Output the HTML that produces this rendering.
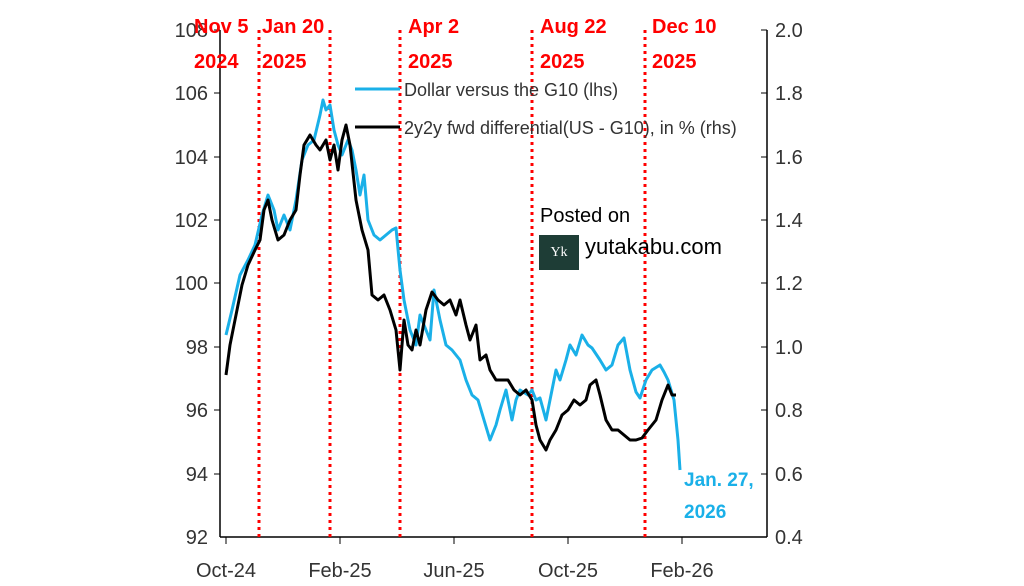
<!DOCTYPE html>
<html><head><style>body{margin:0;background:#fff}svg{display:block}</style></head><body>
<svg width="1024" height="586" xmlns="http://www.w3.org/2000/svg" font-family="Liberation Sans, sans-serif">
<rect width="1024" height="586" fill="#fff"/>
<g stroke="#000" stroke-width="1.5" fill="none">
<line x1="220" y1="30" x2="220" y2="537"/>
<line x1="767" y1="30" x2="767" y2="537"/>
<line x1="220" y1="537" x2="767" y2="537"/>
</g>
<g stroke="#000" stroke-width="1">
<line x1="214" y1="30" x2="220" y2="30"/><line x1="214" y1="93" x2="220" y2="93"/><line x1="214" y1="157" x2="220" y2="157"/><line x1="214" y1="220" x2="220" y2="220"/><line x1="214" y1="283" x2="220" y2="283"/><line x1="214" y1="347" x2="220" y2="347"/><line x1="214" y1="410" x2="220" y2="410"/><line x1="214" y1="474" x2="220" y2="474"/>
<line x1="761" y1="30" x2="767" y2="30"/><line x1="761" y1="93" x2="767" y2="93"/><line x1="761" y1="157" x2="767" y2="157"/><line x1="761" y1="220" x2="767" y2="220"/><line x1="761" y1="283" x2="767" y2="283"/><line x1="761" y1="347" x2="767" y2="347"/><line x1="761" y1="410" x2="767" y2="410"/><line x1="761" y1="474" x2="767" y2="474"/>
<line x1="226" y1="537" x2="226" y2="544"/><line x1="340" y1="537" x2="340" y2="544"/><line x1="454" y1="537" x2="454" y2="544"/><line x1="568" y1="537" x2="568" y2="544"/><line x1="682" y1="537" x2="682" y2="544"/>
</g>
<g font-size="20" fill="#333" text-anchor="end">
<text x="208" y="37">108</text><text x="208" y="100">106</text><text x="208" y="164">104</text><text x="208" y="227">102</text><text x="208" y="290">100</text><text x="208" y="354">98</text><text x="208" y="417">96</text><text x="208" y="481">94</text><text x="208" y="544">92</text>
</g>
<g font-size="20" fill="#333">
<text x="775" y="37">2.0</text><text x="775" y="100">1.8</text><text x="775" y="164">1.6</text><text x="775" y="227">1.4</text><text x="775" y="290">1.2</text><text x="775" y="354">1.0</text><text x="775" y="417">0.8</text><text x="775" y="481">0.6</text><text x="775" y="544">0.4</text>
</g>
<g font-size="20" fill="#333" text-anchor="middle">
<text x="226" y="577">Oct-24</text><text x="340" y="577">Feb-25</text><text x="454" y="577">Jun-25</text><text x="568" y="577">Oct-25</text><text x="682" y="577">Feb-26</text>
</g>
<g stroke="#f00" stroke-width="3" stroke-dasharray="3,4">
<line x1="259" y1="30" x2="259" y2="537"/><line x1="330" y1="30" x2="330" y2="537"/><line x1="400" y1="30" x2="400" y2="537"/><line x1="532" y1="30" x2="532" y2="537"/><line x1="645" y1="30" x2="645" y2="537"/>
</g>
<g font-size="20" font-weight="bold" fill="#f00">
<text x="194" y="33">Nov 5</text><text x="194" y="68">2024</text>
<text x="262" y="33">Jan 20</text><text x="262" y="68">2025</text>
<text x="408" y="33">Apr 2</text><text x="408" y="68">2025</text>
<text x="540" y="33">Aug 22</text><text x="540" y="68">2025</text>
<text x="652" y="33">Dec 10</text><text x="652" y="68">2025</text>
</g>
<polyline fill="none" stroke="#1ab0e8" stroke-width="3" stroke-linejoin="round" points="226,335 232,310 240,275 248,260 255,245 262,215 268,195 274,210 278,230 284,215 290,230 296,200 302,160 308,145 314,140 320,115 323,100 326,110 330,105 334,130 338,145 342,155 348,140 352,150 356,170 360,195 364,175 368,220 374,235 380,240 386,235 392,230 396,228 400,270 404,300 410,330 416,345 420,315 426,330 430,340 434,290 440,320 446,345 452,350 460,360 466,380 472,395 478,400 484,420 490,440 496,425 500,410 506,390 512,420 516,400 520,390 528,395 532,390 536,400 540,398 546,420 550,400 556,370 560,380 566,360 570,345 576,355 582,335 588,345 592,348 600,360 606,370 612,365 618,345 624,338 630,370 636,392 640,398 646,380 652,370 660,365 664,372 668,380 674,400 676,420 678,440 680,470"/>
<polyline fill="none" stroke="#000" stroke-width="3" stroke-linejoin="round" points="226,375 230,345 236,315 242,285 248,265 255,250 260,240 264,210 268,200 272,220 278,240 284,235 290,220 296,210 300,175 304,145 310,135 316,145 320,150 326,140 330,160 334,145 338,170 342,140 346,125 350,145 356,200 362,230 368,250 372,295 378,300 384,295 390,310 396,330 400,370 404,320 408,345 412,350 416,330 420,345 426,310 432,292 438,300 444,305 450,300 456,315 460,300 466,325 470,340 476,325 480,360 486,355 490,370 496,380 502,380 508,380 514,390 520,395 526,390 532,400 536,425 540,440 546,450 550,440 556,430 562,415 568,410 574,400 580,405 586,400 590,385 596,380 600,395 606,420 612,430 618,430 624,435 630,440 636,440 642,438 648,430 656,420 662,400 668,385 672,395 676,395"/>
<line x1="355" y1="89" x2="400" y2="89" stroke="#1ab0e8" stroke-width="3"/>
<line x1="355" y1="127" x2="400" y2="127" stroke="#000" stroke-width="3"/>
<text x="404" y="96" font-size="18" fill="#333">Dollar versus the G10 (lhs)</text>
<text x="404" y="134" font-size="18" fill="#333">2y2y fwd differential(US - G10), in % (rhs)</text>
<text x="540" y="222" font-size="20" fill="#000">Posted on</text>
<rect x="539" y="235" width="40" height="35" fill="#1e3d36"/>
<text x="559" y="256" font-size="14" fill="#fff" text-anchor="middle" font-family="Liberation Serif, serif">Yk</text>
<text x="585" y="254" font-size="22" fill="#000">yutakabu.com</text>
<text x="684" y="486" font-size="19" font-weight="bold" fill="#1ab0e8">Jan. 27,</text>
<text x="684" y="518" font-size="19" font-weight="bold" fill="#1ab0e8">2026</text>
</svg>
</body></html>
